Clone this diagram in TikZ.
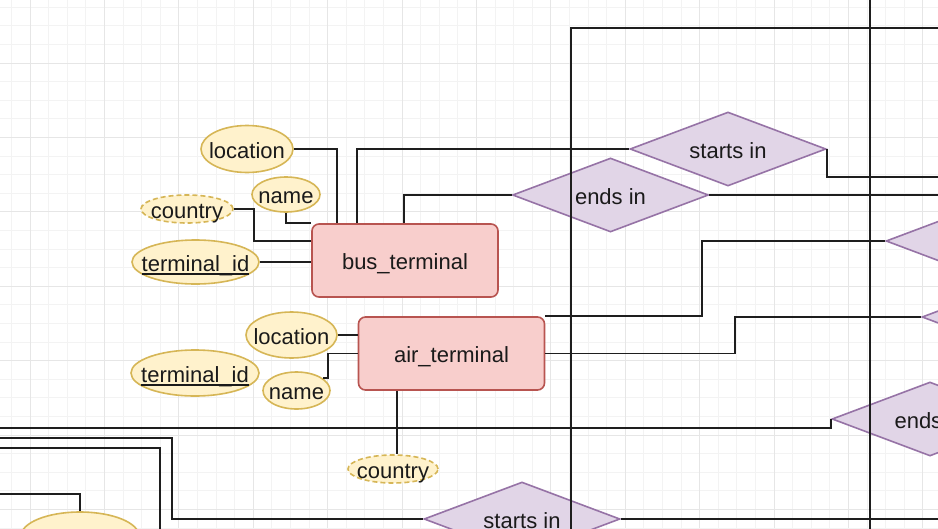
\documentclass[tikz,border=0pt]{standalone}
\usepackage{fontspec}
\setmainfont{Liberation Sans}
\usetikzlibrary{shapes.geometric,calc}
\newsavebox\keybox
\newcommand\keyline[1]{\sbox\keybox{#1}\rlap{\rule[-3.5pt]{\wd\keybox}{1.5pt}}\usebox\keybox}
\definecolor{Ink}{HTML}{1A1A1A}
\definecolor{Wire}{HTML}{1E1E1E}
\definecolor{EntFill}{HTML}{F8CECC}
\definecolor{EntLine}{HTML}{B85450}
\definecolor{AttFill}{HTML}{FFF2CC}
\definecolor{AttLine}{HTML}{D6B656}
\definecolor{RelFill}{HTML}{E1D5E7}
\definecolor{RelLine}{HTML}{9673A6}
\definecolor{GridMinor}{HTML}{F3F3F3}
\definecolor{GridMajor}{HTML}{E6E6E6}

\begin{document}
\begin{tikzpicture}[x=1pt,y=-1pt,
  every node/.style={font=\fontsize{22}{26}\selectfont,text=Ink,text height=18pt,text depth=0pt},
  entity/.style={rectangle,rounded corners=7pt,fill=EntFill,draw=EntLine,line width=1.6pt,minimum width=186pt,minimum height=73pt},
  attr/.style={ellipse,fill=AttFill,draw=AttLine,line width=1.6pt,inner xsep=-80pt,inner ysep=-2pt},
  weakattr/.style={attr,dash pattern=on 5pt off 3pt},
  rel/.style={diamond,fill=RelFill,draw=RelLine,line width=1.6pt,inner sep=0pt,shape aspect=2.6,minimum width=196pt,minimum height=74pt},
  wire/.style={draw=Wire,line width=1.9pt}]
\path[use as bounding box,clip] (0,0) rectangle (938,528);
\fill[white] (0,0) rectangle (938,528);
% grid
\foreach \i in {0,...,50} \draw[GridMinor,line width=0.8pt] ({11.4+18.6*\i},0) -- ++(0,528);
\foreach \j in {0,...,28} \draw[GridMinor,line width=0.8pt] (0,{7.2+18.6*\j}) -- ++(938,0);
\foreach \i in {0,...,12} \draw[GridMajor,line width=0.9pt] ({30+74.4*\i},0) -- ++(0,528);
\foreach \j in {0,...,7} \draw[GridMajor,line width=0.9pt] (0,{63+74.4*\j}) -- ++(938,0);

% entities
\node[entity] (busT) at (405,260.5) {bus\_terminal};
\node[entity] (airT) at (451.5,353.5) {air\_terminal};

% attributes
\node[attr,minimum width=92pt,minimum height=47pt] (bLoc) at (247,149) {location};
\node[attr,minimum width=68pt,minimum height=35pt] (bName) at (286,194.5) {name};
\node[weakattr,minimum width=92pt,minimum height=28pt] (bCountry) at (187,209) {country};
\node[attr,minimum width=127pt,minimum height=44pt] (bId) at (195.5,262) {\keyline{terminal\_id}};
\node[attr,minimum width=91pt,minimum height=46pt] (aLoc) at (291.5,335) {location};
\node[attr,minimum width=128pt,minimum height=46pt] (aId) at (195,373) {\keyline{terminal\_id}};
\node[attr,minimum width=67pt,minimum height=37pt] (aName) at (296.5,390.5) {name};
\node[weakattr,minimum width=90pt,minimum height=28pt] (aCountry) at (393,469) {country};
\node[attr,minimum width=118pt,minimum height=48pt] (cId) at (80,536) {train\_id};

% relations
\node[rel] (bStart) at (728,149) {starts in};
\node[rel] (bEnd) at (610.5,195) {ends in};
\node[rel] (aStart) at (984,241) {};
\node[rel] (aEnd) at (1020,317) {};
\node[rel] (xEnd) at (930,419) {ends in};
\node[rel] (xStart) at (522,519) {starts in};

% free ends
\coordinate (oStart) at (945,177);
\coordinate (oEnd) at (945,195);
\coordinate (oLow) at (945,519);
\coordinate (wA) at (-5,428);
\coordinate (wB) at (-5,438);
\coordinate (wC) at (-5,448);
\coordinate (wCend) at (160,535);
\coordinate (wD) at (-5,494);
\coordinate (vA) at (571,535);
\coordinate (vAtop) at (945,28);
\coordinate (vB) at (870,-5);
\coordinate (vBend) at (870,535);

% connectors
\draw[wire] (bLoc.east) -| ($(busT.north west)+(26,0)$);
\draw[wire] ($(busT.north west)+(46,0)$) |- (bStart.west);
\draw[wire] (bStart.east) |- (oStart);
\draw[wire] ($(busT.north west)+(93,0)$) |- (bEnd.west);
\draw[wire] (bEnd.east) -- (oEnd);
\draw[wire] (bName.south) |- (busT.north west);
\draw[wire] (bCountry.east) -- ++(20,0) |- ($(busT.west)+(0,-19.5)$);
\draw[wire] (bId.east) -- (bId.east -| busT.west);
\draw[wire] (aLoc.east) -- (aLoc.east -| airT.west);
\draw[wire] (aName.25) -- ++(5,0) |- (airT.west);
\draw[wire] (airT.south west) ++(39,0) coordinate (airC) -- (airC |- aCountry.north);
\draw[wire] (airT.north east) -- ++(157,0) |- (aStart.west);
\draw[wire] (airT.east) -- ++(190,0) |- (aEnd.west);
\draw[wire] (wA) -| (xEnd.west);
\draw[wire] (wB) -- ++(177,0) |- (xStart.west);
\draw[wire] (wC) -| (wCend);
\draw[wire] (wD) -| (cId.north);
\draw[wire] (xStart.east) -- (oLow);
\draw[wire] (vA) |- (vAtop);
\draw[wire] (vB) -- (vBend);
\end{tikzpicture}
\end{document}
